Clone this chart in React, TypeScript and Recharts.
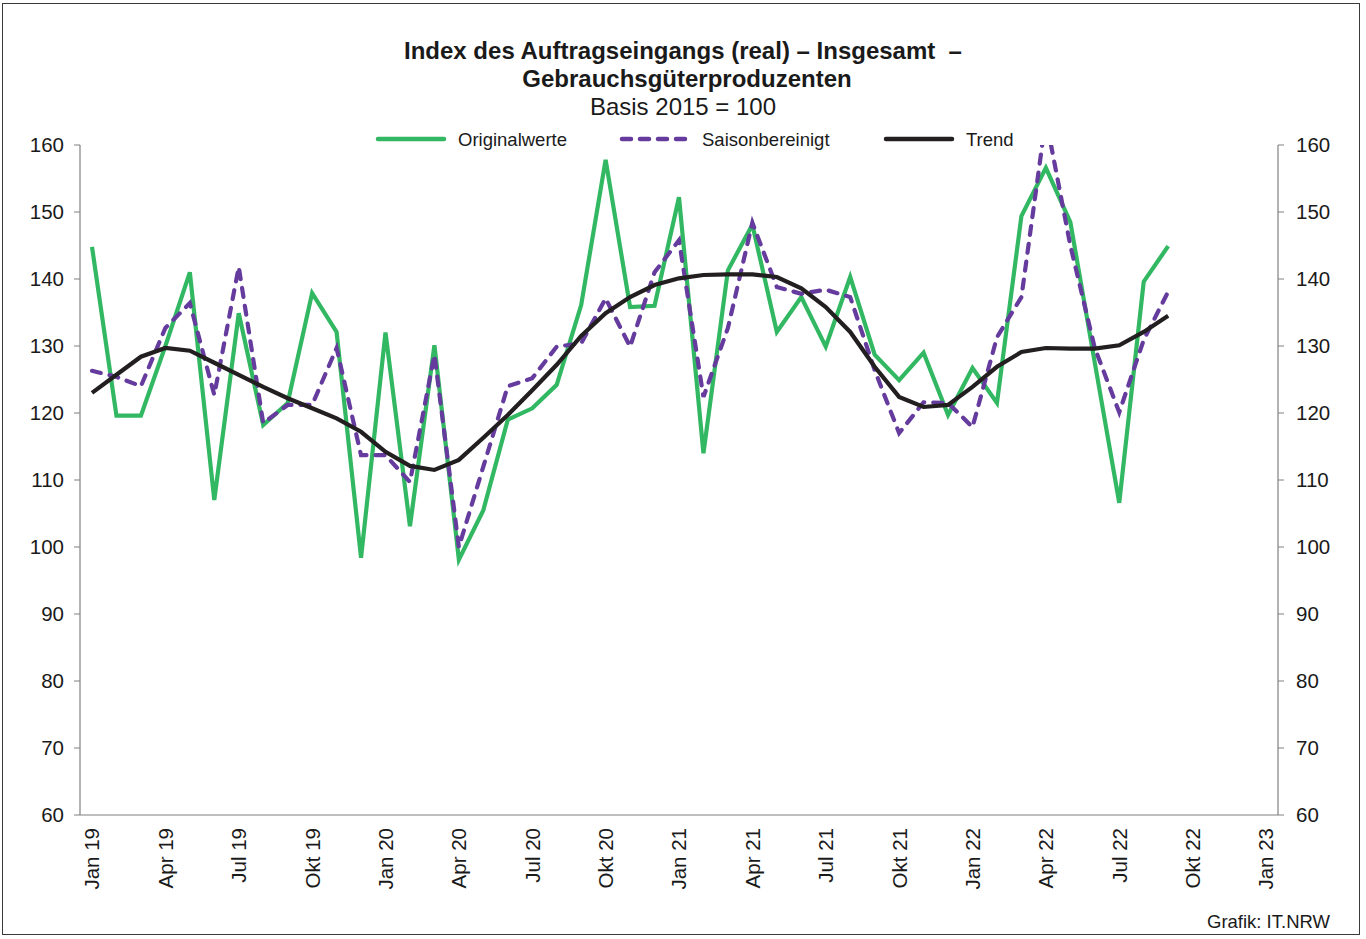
import React from 'react';
import { LineChart, Line, XAxis, YAxis, Legend } from 'recharts';

const monthNames = ['Jan', 'Feb', 'Mär', 'Apr', 'Mai', 'Jun', 'Jul', 'Aug', 'Sep', 'Okt', 'Nov', 'Dez'];
const years = ['19', '20', '21', '22'];
const categories: string[] = [...years.flatMap((y) => monthNames.map((m) => `${m} ${y}`)), 'Jan 23'];

const originalwerte = [
  144.8, 119.6, 119.6, 130.0, 141.0, 107.0, 134.9, 118.2, 121.5, 137.9, 132.1, 98.4,
  132.0, 103.1, 130.1, 98.1, 105.5, 119.0, 120.7, 124.2, 136.1, 157.8, 135.8, 136.0,
  152.2, 114.0, 141.3, 148.1, 132.1, 137.3, 129.9, 140.3, 128.7, 124.9, 129.0, 119.7,
  126.7, 121.5, 149.4, 156.6, 148.5, 127.5, 106.6, 139.6, 144.9,
];
const saisonbereinigt = [
  126.3, 125.4, 124.0, 132.7, 136.4, 122.7, 141.8, 118.5, 121.2, 121.2, 129.7, 113.7,
  113.7, 109.7, 128.7, 100.0, 112.0, 124.0, 125.2, 129.9, 130.4, 137.1, 129.9, 141.0,
  145.8, 122.4, 132.7, 148.4, 138.8, 137.8, 138.4, 137.3, 126.4, 117.0, 121.6, 121.5,
  117.9, 131.3, 137.3, 164.0, 145.0, 129.7, 120.1, 130.9, 138.1,
];
const trend = [
  123.0, 125.7, 128.4, 129.7, 129.3, 127.5, 125.7, 123.9, 122.2, 120.7, 119.2, 117.2,
  114.2, 112.1, 111.5, 113.0, 116.3, 119.7, 123.4, 127.2, 131.5, 134.9, 137.3, 139.1,
  140.1, 140.6, 140.7, 140.7, 140.3, 138.6, 135.8, 132.1, 126.9, 122.4, 120.9, 121.2,
  123.9, 126.9, 129.1, 129.7, 129.6, 129.6, 130.1, 132.1, 134.5,
];
const yTicks = [60, 70, 80, 90, 100, 110, 120, 130, 140, 150, 160];

const data = categories.map((label, i) => ({
  label,
  orig: originalwerte[i],
  sa: saisonbereinigt[i],
  trend: trend[i],
}));

const FONT = '"Liberation Sans", Arial, sans-serif';
const GREEN = '#32b862';
const PURPLE = '#653c9e';
const BLACK = '#231f20';
const AXIS = '#808080';

const XTick = (props: any) => {
  const { x, y, payload } = props;
  return (
    <text
      transform={`translate(${x},${y + 5}) rotate(-90)`}
      textAnchor="end"
      dy="0.36em"
      fontSize={20.5}
      fontFamily={FONT}
      fill="#1a1a1a"
    >
      {payload.value}
    </text>
  );
};

const LegendContent = () => {
  const items = [
    { x: 376, label: 'Originalwerte', color: GREEN, dash: undefined as string | undefined },
    { x: 620, label: 'Saisonbereinigt', color: PURPLE, dash: '9 9' },
    { x: 884, label: 'Trend', color: BLACK, dash: undefined },
  ];
  return (
    <svg width={1366} height={24} style={{ display: 'block' }}>
      {items.map((it) => (
        <g key={it.label}>
          <line
            x1={it.x + 2}
            x2={it.x + 68}
            y1={11}
            y2={11}
            stroke={it.color}
            strokeWidth={4.5}
            strokeLinecap="round"
            strokeDasharray={it.dash}
          />
          <text x={it.x + 82} y={17.5} fontSize={18.5} fontFamily={FONT} fill="#1a1a1a">
            {it.label}
          </text>
        </g>
      ))}
    </svg>
  );
};

export default function App() {
  return (
    <div style={{ position: 'absolute', left: 0, top: 0, width: 1366, height: 939, background: '#fff', fontFamily: FONT }}>
      <div
        style={{
          position: 'absolute',
          left: 2,
          top: 3,
          width: 1358,
          height: 932,
          border: '1.5px solid #3a3a3a',
          boxSizing: 'border-box',
        }}
      />
      <div style={{ position: 'absolute', left: 0, top: 37, width: 1366, textAlign: 'center', fontWeight: 'bold', fontSize: 24, color: '#1a1a1a', whiteSpace: 'pre', lineHeight: '28px' }}>
        {'Index des Auftragseingangs (real) – Insgesamt  –'}
      </div>
      <div style={{ position: 'absolute', left: 4, top: 65, width: 1366, textAlign: 'center', fontWeight: 'bold', fontSize: 24, color: '#1a1a1a', lineHeight: '28px' }}>
        Gebrauchsgüterproduzenten
      </div>
      <div style={{ position: 'absolute', left: 0, top: 93, width: 1366, textAlign: 'center', fontSize: 24, color: '#1a1a1a', lineHeight: '28px' }}>
        Basis 2015 = 100
      </div>
      <div style={{ position: 'absolute', left: 0, top: 0 }}>
        <LineChart
          width={1366}
          height={939}
          data={data}
          margin={{ top: 145, right: 38, bottom: 44, left: 30 }}
        >
          <XAxis
            dataKey="label"
            interval={2}
            height={80}
            padding={{ left: 12, right: 12 }}
            axisLine={{ stroke: AXIS, strokeWidth: 1.2 }}
            tickLine={false}
            tick={<XTick />}
          />
          <YAxis
            yAxisId="left"
            width={50}
            domain={[60, 160]}
            ticks={yTicks}
            allowDataOverflow
            axisLine={{ stroke: AXIS, strokeWidth: 1.2 }}
            tickLine={{ stroke: AXIS }}
            tickSize={6}
            tickMargin={10}
            tick={{ fontSize: 20.5, fontFamily: FONT, fill: '#1a1a1a' }}
          />
          <YAxis
            yAxisId="right"
            orientation="right"
            width={50}
            domain={[60, 160]}
            ticks={yTicks}
            allowDataOverflow
            axisLine={{ stroke: AXIS, strokeWidth: 1.2 }}
            tickLine={{ stroke: AXIS }}
            tickSize={6}
            tickMargin={12}
            tick={{ fontSize: 20.5, fontFamily: FONT, fill: '#1a1a1a' }}
          />
          <Legend
            verticalAlign="middle"
            align="center"
            content={() => <LegendContent />}
            wrapperStyle={{ position: 'absolute', top: 128, left: 0, width: 1366, height: 24 }}
          />
          <Line
            yAxisId="left"
            dataKey="orig"
            name="Originalwerte"
            stroke={GREEN}
            strokeWidth={4.2}
            dot={false}
            strokeLinejoin="miter"
            isAnimationActive={false}
          />
          <Line
            yAxisId="left"
            dataKey="sa"
            name="Saisonbereinigt"
            stroke={PURPLE}
            strokeWidth={4.2}
            strokeDasharray="9 9"
            strokeLinecap="round"
            dot={false}
            isAnimationActive={false}
          />
          <Line
            yAxisId="left"
            dataKey="trend"
            name="Trend"
            stroke={BLACK}
            strokeWidth={4.2}
            dot={false}
            isAnimationActive={false}
          />
        </LineChart>
      </div>
      <div style={{ position: 'absolute', right: 36, top: 911, fontSize: 18.5, color: '#1a1a1a' }}>Grafik: IT.NRW</div>
    </div>
  );
}
